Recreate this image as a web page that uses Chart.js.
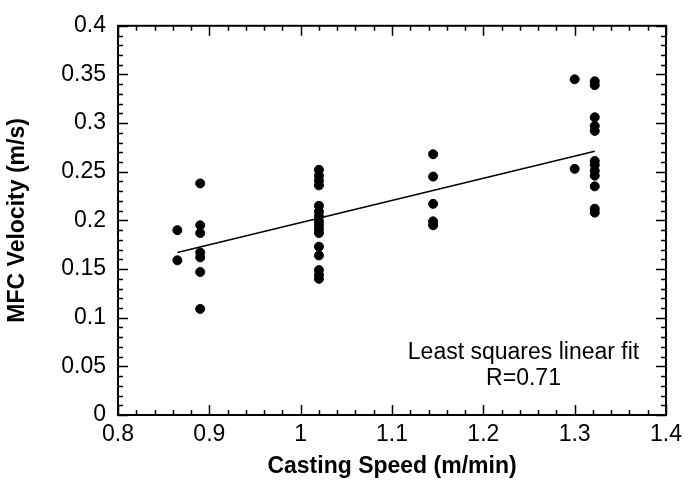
<!DOCTYPE html>
<html><head><meta charset="utf-8">
<script src="https://cdn.jsdelivr.net/npm/chart.js@4"></script>
<style>html,body{margin:0;padding:0;background:#fff}</style>
</head><body>
<canvas id="c" width="694" height="483"></canvas>
<script>
// Measured points (casting speed m/min, MFC velocity m/s)
const castingSpeed = [
  0.865, 0.865,
  0.89, 0.89, 0.89, 0.89, 0.89, 0.89, 0.89,
  1.02, 1.02, 1.02, 1.02, 1.02, 1.02, 1.02, 1.02, 1.02, 1.02, 1.02, 1.02, 1.02, 1.02, 1.02, 1.02,
  1.145, 1.145, 1.145, 1.145, 1.145,
  1.3, 1.3,
  1.322, 1.322, 1.322, 1.322, 1.322, 1.322, 1.322, 1.322, 1.322, 1.322, 1.322, 1.322
];
const mfcVelocity = [
  0.190, 0.159,
  0.238, 0.195, 0.187, 0.167, 0.162, 0.147, 0.109,
  0.252, 0.246, 0.241, 0.236, 0.215, 0.209, 0.204, 0.199, 0.195, 0.191, 0.187, 0.173, 0.164, 0.149, 0.144, 0.140,
  0.268, 0.245, 0.217, 0.199, 0.195,
  0.345, 0.253,
  0.343, 0.339, 0.306, 0.297, 0.292, 0.261, 0.257, 0.251, 0.246, 0.235, 0.212, 0.208
];
// Least squares fit line end points
const fitSpeed = [0.865, 1.322];
const fitVelocity = [0.167, 0.271];
const fitLabel = "Least squares linear fit";
const rLabel = "R=0.71";
const xTitle = "Casting Speed (m/min)";
const yTitle = "MFC Velocity (m/s)";

const FONT = '"Liberation Sans", Arial, Helvetica, sans-serif';

const framePlugin = {
  id: 'frame',
  afterDraw(chart) {
    const {ctx, chartArea: {left, right, top, bottom}, scales: {x, y}} = chart;
    ctx.save();
    ctx.strokeStyle = '#000';
    ctx.lineWidth = 1.5;
    ctx.beginPath();
    for (let i = 0; i <= 30; i++) {
      const v = 0.8 + i * 0.02;
      const px = Math.round(x.getPixelForValue(v)) + 0.5;
      const len = (i % 5 === 0) ? 10 : 5;
      ctx.moveTo(px, bottom); ctx.lineTo(px, bottom - len);
      ctx.moveTo(px, top); ctx.lineTo(px, top + len);
    }
    for (let i = 0; i <= 40; i++) {
      const v = i * 0.01;
      const py = Math.round(y.getPixelForValue(v)) + 0.5;
      const len = (i % 5 === 0) ? 10 : 5;
      ctx.moveTo(left, py); ctx.lineTo(left + len, py);
      ctx.moveTo(right, py); ctx.lineTo(right - len, py);
    }
    ctx.stroke();
    ctx.lineWidth = 2;
    ctx.strokeRect(left, top, right - left, bottom - top);
    ctx.fillStyle = '#000';
    ctx.font = '23px ' + FONT;
    ctx.textAlign = 'center';
    ctx.textBaseline = 'middle';
    const cx = x.getPixelForValue(1.244);
    ctx.fillText(fitLabel, cx, y.getPixelForValue(0.064));
    ctx.fillText(rLabel, cx, y.getPixelForValue(0.037));
    ctx.restore();
  }
};

const points = castingSpeed.map((s, i) => ({x: s, y: mfcVelocity[i]}));
const fitPoints = fitSpeed.map((s, i) => ({x: s, y: fitVelocity[i]}));

new Chart(document.getElementById('c'), {
  type: 'scatter',
  data: {
    datasets: [
      {
        type: 'line',
        data: fitPoints,
        borderColor: '#000',
        borderWidth: 1.5,
        pointRadius: 0,
        fill: false,
        order: 1
      },
      {
        data: points,
        backgroundColor: '#000',
        borderColor: '#000',
        pointRadius: 4.5,
        pointHoverRadius: 4.5,
        order: 0
      }
    ]
  },
  options: {
    responsive: false,
    animation: false,
    events: [],
    layout: {padding: {top: 23, right: 28, left: 0, bottom: 0}},
    plugins: {legend: {display: false}, tooltip: {enabled: false}},
    scales: {
      x: {
        type: 'linear',
        min: 0.8, max: 1.4,
        border: {display: false},
        grid: {display: false, drawTicks: false},
        ticks: {
          stepSize: 0.1,
          padding: 6,
          color: '#000',
          font: {family: FONT, size: 23},
          maxRotation: 0,
          callback: v => String(Math.round(v * 100) / 100)
        },
        title: {
          display: true, text: xTitle, color: '#000',
          font: {family: FONT, size: 23, weight: 'bold'},
          padding: {top: 0, bottom: 3}
        },
        afterFit: s => { s.height = 68; }
      },
      y: {
        type: 'linear',
        min: 0, max: 0.4,
        border: {display: false},
        grid: {display: false, drawTicks: false},
        ticks: {
          stepSize: 0.05,
          padding: 12,
          color: '#000',
          font: {family: FONT, size: 23},
          callback: v => String(Math.round(v * 1000) / 1000)
        },
        title: {
          display: true, text: yTitle, color: '#000',
          font: {family: FONT, size: 23, weight: 'bold'},
          padding: {top: 4, bottom: 0}
        },
        afterFit: s => { s.width = 118; }
      }
    }
  },
  plugins: [framePlugin]
});
</script>
</body></html>
